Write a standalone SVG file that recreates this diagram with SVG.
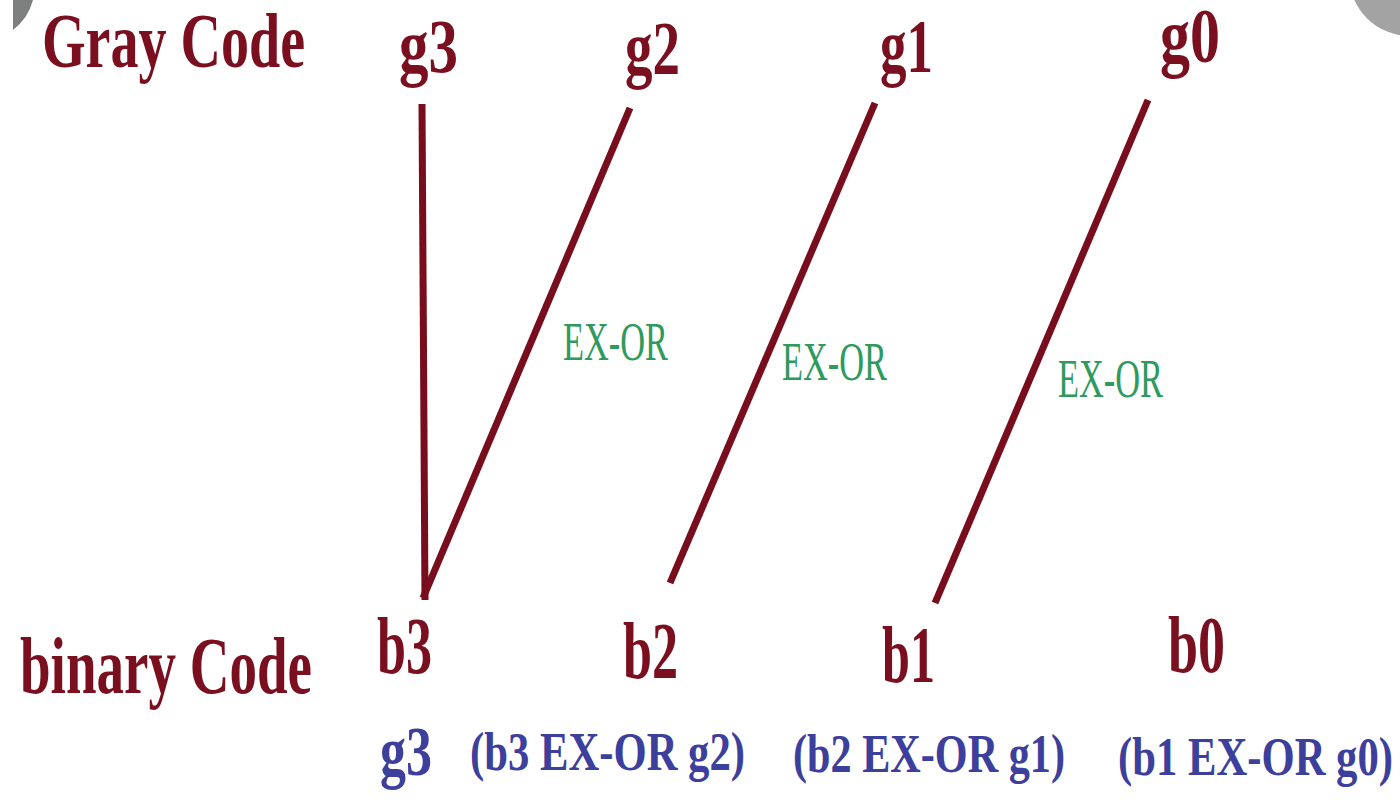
<svg xmlns="http://www.w3.org/2000/svg" width="1400" height="802" viewBox="0 0 1400 802">
<style>
.red{font-family:"Liberation Serif","Times New Roman",serif;font-weight:bold;fill:#7a0f1f}
.blue{font-family:"Liberation Serif","Times New Roman",serif;font-weight:bold;fill:#3d3f9c}
.green{font-family:"Liberation Serif","Times New Roman",serif;font-weight:normal;fill:#2f9a5e}
.conn line{stroke:#780d1d;stroke-width:7;stroke-linecap:butt}
</style>
<rect width="1400" height="802" fill="#ffffff"/>
<path d="M13,0 L33,0 A56,56 0 0 1 13,30 Z" fill="#7d807e"/>
<circle cx="1410" cy="-25" r="61" fill="#a3a3a3"/>
<g id="gray-code-label"><text class="red" x="42" y="67" font-size="78" textLength="263" lengthAdjust="spacingAndGlyphs">Gray Code</text></g>
<g id="binary-code-label"><text class="red" x="20" y="693" font-size="80" textLength="292" lengthAdjust="spacingAndGlyphs">binary Code</text></g>
<g id="g3"><text class="red" x="399" y="72" font-size="76" textLength="59" lengthAdjust="spacingAndGlyphs">g3</text></g>
<g id="g2"><text class="red" x="625" y="74" font-size="76" textLength="55" lengthAdjust="spacingAndGlyphs">g2</text></g>
<g id="g1"><text class="red" x="880" y="72" font-size="76" textLength="53" lengthAdjust="spacingAndGlyphs">g1</text></g>
<g id="g0"><text class="red" x="1160" y="62" font-size="78" textLength="60" lengthAdjust="spacingAndGlyphs">g0</text></g>
<g id="b3"><text class="red" x="377" y="673" font-size="80" textLength="55" lengthAdjust="spacingAndGlyphs">b3</text></g>
<g id="b2"><text class="red" x="623" y="678" font-size="80" textLength="55" lengthAdjust="spacingAndGlyphs">b2</text></g>
<g id="b1"><text class="red" x="882" y="682" font-size="80" textLength="53" lengthAdjust="spacingAndGlyphs">b1</text></g>
<g id="b0"><text class="red" x="1168" y="672" font-size="80" textLength="57" lengthAdjust="spacingAndGlyphs">b0</text></g>
<g id="res-b3"><text class="blue" x="380" y="775" font-size="70" textLength="52" lengthAdjust="spacingAndGlyphs">g3</text></g>
<g id="res-b2"><text class="blue" x="470" y="770" font-size="54" textLength="275" lengthAdjust="spacingAndGlyphs">(b3 EX-OR g2)</text></g>
<g id="res-b1"><text class="blue" x="793" y="772" font-size="54" textLength="272" lengthAdjust="spacingAndGlyphs">(b2 EX-OR g1)</text></g>
<g id="res-b0"><text class="blue" x="1118" y="775" font-size="54" textLength="275" lengthAdjust="spacingAndGlyphs">(b1 EX-OR g0)</text></g>
<g class="conn" id="connectors">
<line x1="422" y1="104" x2="425" y2="600"/>
<line x1="630" y1="108" x2="423" y2="598"/>
<line x1="875" y1="103" x2="670" y2="583"/>
<line x1="1148" y1="100" x2="935" y2="603"/>
</g>
<g id="xor-labels">
<text class="green" x="563" y="360" font-size="54" textLength="105" lengthAdjust="spacingAndGlyphs">EX-OR</text>
<text class="green" x="782" y="380" font-size="54" textLength="105" lengthAdjust="spacingAndGlyphs">EX-OR</text>
<text class="green" x="1058" y="397" font-size="54" textLength="105" lengthAdjust="spacingAndGlyphs">EX-OR</text>
</g>
</svg>
